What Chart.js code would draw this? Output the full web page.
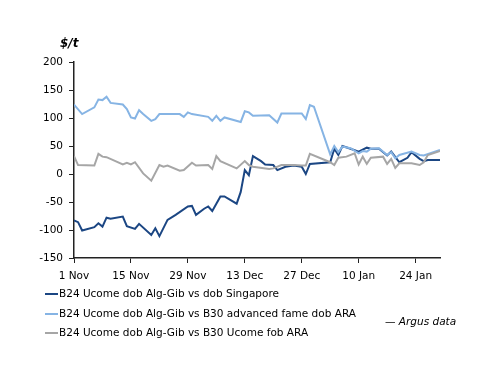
<!DOCTYPE html>
<html>
<head>
<meta charset="utf-8">
<script src="https://cdn.jsdelivr.net/npm/chart.js@4"></script>
<style>
  body { margin: 0; background: #fff; font-family: "DejaVu Sans", sans-serif; }
  #wrap { position: relative; width: 500px; height: 386px; }
  #unit { position: absolute; left: 60px; top: 36px; font-size: 12px; font-weight: bold; font-style: italic; }
  #legend { position: absolute; left: 45px; top: 284px; font-size: 10.5px; }
  .item { height: 19.5px; line-height: 19.5px; white-space: nowrap; }
  .swatch { display: inline-block; width: 13px; height: 2px; vertical-align: middle; margin-right: 1px; }
  #source { position: absolute; left: 385px; top: 315px; font-size: 10.5px; font-style: italic; }
</style>
</head>
<body>
<div id="wrap">
  <canvas id="chart" width="500" height="386"></canvas>
  <div id="unit">$/t</div>
  <div id="legend"></div>
  <div id="source">— Argus data</div>
</div>
<script>
// days counted from 1 Nov
const tickLabels = ["1 Nov", "15 Nov", "29 Nov", "13 Dec", "27 Dec", "10 Jan", "24 Jan"];

const seriesNames = [
  "B24 Ucome dob Alg-Gib vs dob Singapore",
  "B24 Ucome dob Alg-Gib vs B30 advanced fame dob ARA",
  "B24 Ucome dob Alg-Gib vs B30 Ucome fob ARA"
];
const seriesColors = ["#1b4683", "#86b4e4", "#a6a6a6"];

const singaporeDays = [0, 1, 2, 5, 6, 7, 8, 9, 12, 13, 15, 16, 19, 20, 21, 23, 25, 28, 29, 30, 32, 33, 34, 36, 37, 40, 41, 42, 43, 44, 46, 47, 49, 50, 52, 54, 56, 57, 58, 63, 64, 65, 66, 68, 70, 72, 73, 75, 77, 78, 80, 82, 83, 85, 86, 87, 90];
const singaporeValues = [-83, -86, -101, -95, -88, -94, -78, -80, -76, -93, -98, -89, -109, -97, -111, -82, -73, -58, -57, -73, -62, -58, -66, -40, -40, -53, -32, 7, -2, 32, 23, 17, 16, 7, 13, 15, 13, 0, 18, 21, 45, 34, 50, 45, 40, 47, 45, 45, 33, 40, 21, 29, 39, 27, 23, 25, 25];

const fameDays = [0, 2, 5, 6, 7, 8, 9, 12, 13, 14, 15, 16, 17, 19, 20, 21, 23, 26, 27, 28, 29, 33, 34, 35, 36, 37, 41, 42, 43, 44, 48, 50, 51, 54, 56, 57, 58, 59, 63, 64, 65, 66, 68, 70, 71, 72, 73, 75, 77, 78, 79, 80, 83, 85, 86, 90];
const fameValues = [124, 107, 119, 133, 132, 138, 127, 124, 116, 101, 99, 114, 107, 95, 98, 107, 107, 107, 102, 110, 107, 102, 95, 104, 95, 101, 93, 112, 110, 104, 105, 92, 108, 108, 108, 98, 123, 120, 35, 50, 39, 49, 46, 37, 41, 40, 45, 46, 34, 39, 28, 34, 40, 34, 33, 43];

const ucomeDays = [0, 1, 5, 6, 7, 8, 12, 13, 14, 15, 17, 19, 21, 22, 23, 26, 27, 29, 30, 33, 34, 35, 36, 40, 42, 43, 44, 48, 49, 51, 54, 56, 57, 58, 63, 64, 65, 67, 69, 70, 71, 72, 73, 76, 77, 78, 79, 80, 83, 85, 86, 87, 90];
const ucomeValues = [32, 16, 15, 36, 31, 30, 17, 20, 17, 21, 1, -12, 16, 13, 15, 6, 7, 20, 15, 16, 9, 32, 23, 10, 23, 16, 13, 9, 10, 16, 16, 15, 15, 36, 21, 16, 29, 31, 37, 17, 31, 18, 29, 31, 18, 27, 11, 19, 19, 16, 21, 34, 41];

const allDays = [singaporeDays, fameDays, ucomeDays];
const allValues = [singaporeValues, fameValues, ucomeValues];

const axisFont = { family: "DejaVu Sans", size: 10.5 };

const datasets = seriesNames.map((name, i) => ({
  label: name,
  data: allDays[i].map((d, j) => ({ x: d, y: allValues[i][j] })),
  borderColor: seriesColors[i],
  borderWidth: 2,
  pointRadius: 0,
  tension: 0,
  order: 3 - i
}));

const chart = new Chart(document.getElementById("chart"), {
  type: "line",
  data: { datasets },
  options: {
    responsive: false,
    animation: false,
    layout: { padding: { left: 0, top: 62, right: 60, bottom: 98 } },
    plugins: {
      legend: { display: false },
      tooltip: { enabled: false }
    },
    scales: {
      x: {
        type: "linear",
        min: 0,
        max: 90,
        grid: { drawOnChartArea: false, drawTicks: true, tickLength: 5, color: "#222" },
        border: { color: "#222", width: 1.5 },
        ticks: {
          stepSize: 14,
          includeBounds: false,
          autoSkip: false,
          maxRotation: 0,
          padding: 7,
          color: "#000",
          font: axisFont,
          callback: (value) => tickLabels[value / 14]
        },
        afterFit: (scale) => { scale.height = 30; }
      },
      y: {
        min: -150,
        max: 200,
        grid: { drawOnChartArea: false, drawTicks: true, tickLength: 5, color: "#222" },
        border: { color: "#222", width: 1.5 },
        ticks: { stepSize: 50, padding: 6, color: "#000", font: axisFont },
        afterFit: (scale) => { scale.width = 74; }
      }
    }
  }
});

const legend = document.getElementById("legend");
chart.data.datasets.forEach((ds) => {
  const row = document.createElement("div");
  row.className = "item";
  const swatch = document.createElement("span");
  swatch.className = "swatch";
  swatch.style.background = ds.borderColor;
  row.appendChild(swatch);
  row.appendChild(document.createTextNode(ds.label));
  legend.appendChild(row);
});
</script>
</body>
</html>
